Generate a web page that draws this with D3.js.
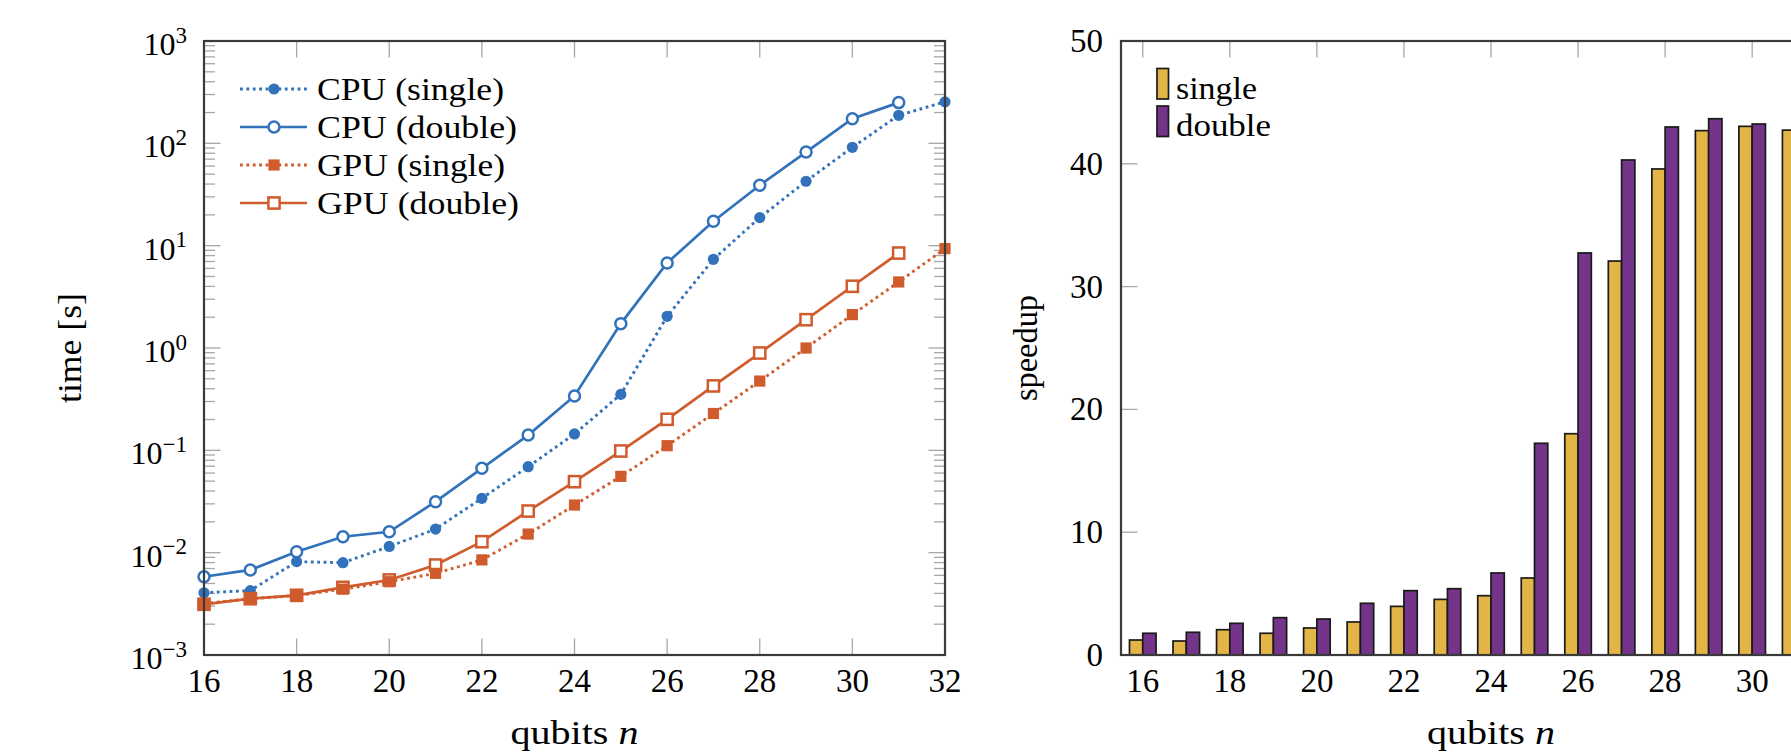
<!DOCTYPE html>
<html><head><meta charset="utf-8">
<script src="https://cdn.jsdelivr.net/npm/d3@7"></script>
<style>
body{margin:0;background:#fff;overflow:hidden}
svg{display:block}
text{font-family:"Liberation Serif","DejaVu Serif",serif;fill:#000}
</style></head><body>
<svg id="chart" width="1791" height="754"></svg>
<script>
// ---------- data ----------
const qubits = [16,17,18,19,20,21,22,23,24,25,26,27,28,29,30,31,32];
const cpuSingle = [0.00406,0.00426,0.00817,0.00798,0.0115,0.0170,0.0340,0.0692,0.1445,0.352,2.04,7.36,18.8,42.6,91.4,188,254];
const cpuDouble = [0.00582,0.00678,0.0102,0.0143,0.0160,0.0315,0.0667,0.141,0.340,1.73,6.78,17.3,38.9,82.2,174,250];
const gpuSingle = [0.00318,0.00355,0.0038,0.0044,0.0052,0.00628,0.0085,0.0152,0.0292,0.0557,0.111,0.229,0.475,1.00,2.12,4.42,9.36];
const gpuDouble = [0.00313,0.00355,0.00383,0.00458,0.00541,0.00757,0.0128,0.0255,0.0494,0.0985,0.201,0.426,0.893,1.89,4.01,8.47];
const speedupSingle = [1.22,1.14,2.06,1.77,2.20,2.69,3.96,4.53,4.83,6.27,18.02,32.08,39.58,42.70,43.05,42.74,27.1];
const speedupDouble = [1.77,1.85,2.58,3.04,2.93,4.21,5.24,5.40,6.68,17.24,32.74,40.31,43.0,43.67,43.24,29.5];
const xTicks = [16,18,20,22,24,26,28,30,32];
const timeExponents = [-3,-2,-1,0,1,2,3];
const speedupTicks = [0,10,20,30,40,50];
const timeLabels = ["CPU (single)","CPU (double)","GPU (single)","GPU (double)"];
const barLabels = ["single","double"];

const BLUE = "#3172bb", ORANGE = "#d05b2d", YELLOW = "#e3b446", PURPLE = "#74348a";
const AXIS = "#3a3a3a", TICK = "#a8a8a8";
const W = 1791;

const svg = d3.select("#chart");

function fitText(sel, len){
  sel.attr("textLength", len).attr("lengthAdjust","spacingAndGlyphs");
  return sel;
}

// ---------- left chart ----------
const L = {x0:204, x1:945, y0:41, y1:655};
const xL = d3.scaleLinear().domain([16,32]).range([L.x0, L.x1]);
const yL = d3.scaleLog().domain([1e-3,1e3]).range([L.y1, L.y0]);
const gL = svg.append("g");

const minors = [];
timeExponents.slice(0,-1).forEach(e => { for (let m=2;m<=9;m++) minors.push(m*Math.pow(10,e)); });
function hticks(g, data, x, len, scale){
  g.append("g").selectAll("line").data(data).join("line")
    .attr("x1", x).attr("x2", x+len).attr("y1", d=>scale(d)).attr("y2", d=>scale(d))
    .attr("stroke", TICK).attr("stroke-width", 1.3);
}
function vticks(g, data, y, len, scale){
  g.append("g").selectAll("line").data(data).join("line")
    .attr("x1", d=>scale(d)).attr("x2", d=>scale(d)).attr("y1", y).attr("y2", y+len)
    .attr("stroke", TICK).attr("stroke-width", 1.3);
}
const majors = timeExponents.map(e => Math.pow(10,e));
hticks(gL, minors, L.x0, 11, yL);
hticks(gL, minors, L.x1, -11, yL);
hticks(gL, majors, L.x0, 16.5, yL);
hticks(gL, majors, L.x1, -16.5, yL);
vticks(gL, xTicks, L.y1, -16.5, xL);
vticks(gL, xTicks, L.y0, 16.5, xL);

// tick labels
const ylab = gL.selectAll(".ylab").data(timeExponents).join("text")
  .attr("x", L.x0-17).attr("y", e=>yL(Math.pow(10,e))+14)
  .attr("text-anchor","end").style("font-size","32px");
ylab.append("tspan").text("10");
ylab.append("tspan").attr("dy",-12.5).style("font-size","23px")
  .text(e => e<0 ? "\u2212"+(-e) : String(e));
gL.selectAll(".xlab").data(xTicks).join("text")
  .attr("x", d=>xL(d)).attr("y", L.y1+37).attr("text-anchor","middle")
  .style("font-size","33px").text(d=>d);

// axis labels
fitText(gL.append("text").attr("transform",`translate(81,${(L.y0+L.y1)/2}) rotate(-90)`)
  .attr("text-anchor","middle").style("font-size","33px").text("time [s]"), 110);
const xt = gL.append("text").attr("x",(L.x0+L.x1)/2).attr("y",744)
  .attr("text-anchor","middle").style("font-size","33px");
xt.append("tspan").text("qubits ");
xt.append("tspan").style("font-style","italic").text("n");
fitText(xt, 128);

// series (doubles drawn first, singles on top)
const series = [
  {vals:cpuDouble, color:BLUE, dash:null, mark:"circleOpen"},
  {vals:cpuSingle, color:BLUE, dash:"2.8,3.6", mark:"circle"},
  {vals:gpuDouble, color:ORANGE, dash:null, mark:"squareOpen"},
  {vals:gpuSingle, color:ORANGE, dash:"2.8,3.6", mark:"square"}
];
const line = d3.line().x(d=>xL(d.q)).y(d=>yL(d.v));
function drawMark(g, type, color, x, y){
  if (type==="circle") g.append("circle").attr("cx",x).attr("cy",y).attr("r",5.6).attr("fill",color);
  else if (type==="circleOpen") g.append("circle").attr("cx",x).attr("cy",y).attr("r",5.5).attr("fill","#fff").attr("stroke",color).attr("stroke-width",2.5);
  else if (type==="square") g.append("rect").attr("x",x-5.6).attr("y",y-5.6).attr("width",11.2).attr("height",11.2).attr("fill",color);
  else g.append("rect").attr("x",x-5.6).attr("y",y-5.6).attr("width",11.2).attr("height",11.2).attr("fill","#fff").attr("stroke",color).attr("stroke-width",2.5);
}
series.forEach(s => {
  const pts = s.vals.map((v,i)=>({q:qubits[i], v}));
  gL.append("path").datum(pts).attr("d",line).attr("fill","none")
    .attr("stroke",s.color).attr("stroke-width", s.dash?2.9:2.7)
    .attr("stroke-dasharray", s.dash);
  const gm = gL.append("g");
  pts.forEach(p => drawMark(gm, s.mark, s.color, xL(p.q), yL(p.v)));
});

gL.append("rect").attr("x",L.x0).attr("y",L.y0).attr("width",L.x1-L.x0).attr("height",L.y1-L.y0)
  .attr("fill","none").attr("stroke",AXIS).attr("stroke-width",2.2);

// legend
const legRows = [
  {label:timeLabels[0], color:BLUE, dash:"2.8,3.6", mark:"circle", len:187},
  {label:timeLabels[1], color:BLUE, dash:null, mark:"circleOpen", len:200},
  {label:timeLabels[2], color:ORANGE, dash:"2.8,3.6", mark:"square", len:188},
  {label:timeLabels[3], color:ORANGE, dash:null, mark:"squareOpen", len:202}
];
legRows.forEach((r,i) => {
  const y = 89 + i*38;
  gL.append("line").attr("x1",240).attr("x2",307).attr("y1",y).attr("y2",y)
    .attr("stroke",r.color).attr("stroke-width", r.dash?2.9:2.7).attr("stroke-dasharray",r.dash);
  drawMark(gL, r.mark, r.color, 274, y);
  fitText(gL.append("text").attr("x",317).attr("y",y+11).style("font-size","32px").text(r.label), r.len);
});

// ---------- right chart ----------
const R = {x0:1121, x1:1861, y0:41, y1:655};
const xR = d3.scaleLinear().domain([15.5,32.5]).range([R.x0, R.x1]);
const yR = d3.scaleLinear().domain([0,50]).range([R.y1, R.y0]);
const gR = svg.append("g");
const bw = xR(16.305) - xR(16);

hticks(gR, speedupTicks, R.x0, 16.5, yR);
hticks(gR, speedupTicks, R.x1, -16.5, yR);
vticks(gR, xTicks, R.y0, 16.5, xR);
vticks(gR, xTicks, R.y1, -16.5, xR);

gR.selectAll(".bs").data(speedupSingle).join("rect")
  .attr("x",(d,i)=>xR(qubits[i])-bw).attr("width",bw)
  .attr("y",d=>yR(d)).attr("height",d=>yR(0)-yR(d))
  .attr("fill",YELLOW).attr("stroke","#1a1a1a").attr("stroke-width",1.7);
gR.selectAll(".bd").data(speedupDouble).join("rect")
  .attr("x",(d,i)=>xR(qubits[i])).attr("width",bw)
  .attr("y",d=>yR(d)).attr("height",d=>yR(0)-yR(d))
  .attr("fill",PURPLE).attr("stroke","#1a1a1a").attr("stroke-width",1.7);

gR.append("rect").attr("x",R.x0).attr("y",R.y0).attr("width",R.x1-R.x0).attr("height",R.y1-R.y0)
  .attr("fill","none").attr("stroke",AXIS).attr("stroke-width",2.2);

gR.selectAll(".ylab").data(speedupTicks).join("text")
  .attr("x",R.x0-18).attr("y",d=>yR(d)+11).attr("text-anchor","end")
  .style("font-size","33px").text(d=>d);
// only tick labels that fall inside the page width (the reference crops the rest)
gR.selectAll(".xlab").data(xTicks.filter(d => xR(d) + 20 < W)).join("text")
  .attr("x",d=>xR(d)).attr("y",R.y1+37).attr("text-anchor","middle")
  .style("font-size","33px").text(d=>d);
fitText(gR.append("text").attr("transform",`translate(1037,${(R.y0+R.y1)/2}) rotate(-90)`)
  .attr("text-anchor","middle").style("font-size","33px").text("speedup"), 106);
const xt2 = gR.append("text").attr("x",(R.x0+R.x1)/2).attr("y",744)
  .attr("text-anchor","middle").style("font-size","33px");
xt2.append("tspan").text("qubits ");
xt2.append("tspan").style("font-style","italic").text("n");
fitText(xt2, 128);

[YELLOW,PURPLE].forEach((c,i) => {
  const y = 68.5 + i*37.5;
  gR.append("rect").attr("x",1157).attr("y",y).attr("width",11.5).attr("height",30.5)
    .attr("fill",c).attr("stroke","#1a1a1a").attr("stroke-width",1.7);
  fitText(gR.append("text").attr("x",1176).attr("y",y+30).style("font-size","32px").text(barLabels[i]), i===0?81:95);
});
</script>
</body></html>
